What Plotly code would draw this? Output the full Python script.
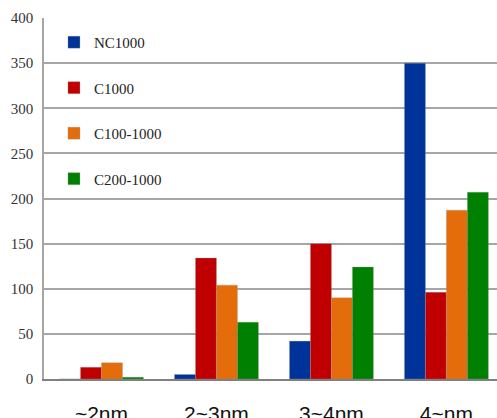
import plotly.graph_objects as go

categories = ["~2nm", "2~3nm", "3~4nm", "4~nm"]
series_names = ["NC1000", "C1000", "C100-1000", "C200-1000"]
nc1000 = [0, 5, 42, 350]
c1000 = [13, 134, 150, 96]
c100_1000 = [18, 104, 90, 187]
c200_1000 = [2, 63, 124, 207]
y_ticks = [0, 50, 100, 150, 200, 250, 300, 350, 400]

colors = ["#003399", "#C00000", "#E46C0A", "#008000"]
values = [nc1000, c1000, c100_1000, c200_1000]

fig = go.Figure()
for i, (name, vals, col) in enumerate(zip(series_names, values, colors)):
    fig.add_trace(go.Bar(
        x=list(range(len(categories))), y=vals, name=name,
        marker=dict(color=col, line=dict(color="rgba(150,150,150,0.6)", width=0.5)),
        legendgroup=name,
    ))

fig.update_layout(
    width=497, height=418,
    margin=dict(l=44, r=0, t=18, b=39, autoexpand=False),
    paper_bgcolor="white", plot_bgcolor="white",
    barmode="group", bargap=0.27, bargroupgap=0,
    showlegend=True,
    legend=dict(
        x=0.022, y=0.978, xanchor="left", yanchor="top",
        font=dict(family="Liberation Serif", size=15, color="#222222"),
        bgcolor="rgba(0,0,0,0)", traceorder="grouped", tracegroupgap=23,
        itemwidth=30,
    ),
    xaxis=dict(
        range=[-0.5, 3.44], tickmode="array", automargin=False,
        tickvals=list(range(len(categories))), ticktext=categories,
        tickfont=dict(family="Liberation Sans", size=21, color="#111111"),
        ticks="outside", ticklen=15, tickcolor="rgba(0,0,0,0)",
        showgrid=False, showline=True, linecolor="#808080", linewidth=1.5,
        zeroline=False,
    ),
    yaxis=dict(
        range=[0, 400], tickvals=y_ticks, automargin=False,
        tickfont=dict(family="Liberation Serif", size=15, color="#333333"),
        showgrid=True, gridcolor="#A6A6A6", gridwidth=1.5,
        showline=True, linecolor="#A6A6A6", linewidth=1.5,
        zeroline=False, ticks="outside", ticklen=6, tickcolor="rgba(0,0,0,0)",
    ),
)

fig.write_html(
    "out.html",
    config={"displayModeBar": False},
    post_script="document.body.style.margin='0';document.body.style.overflow='hidden';",
)
